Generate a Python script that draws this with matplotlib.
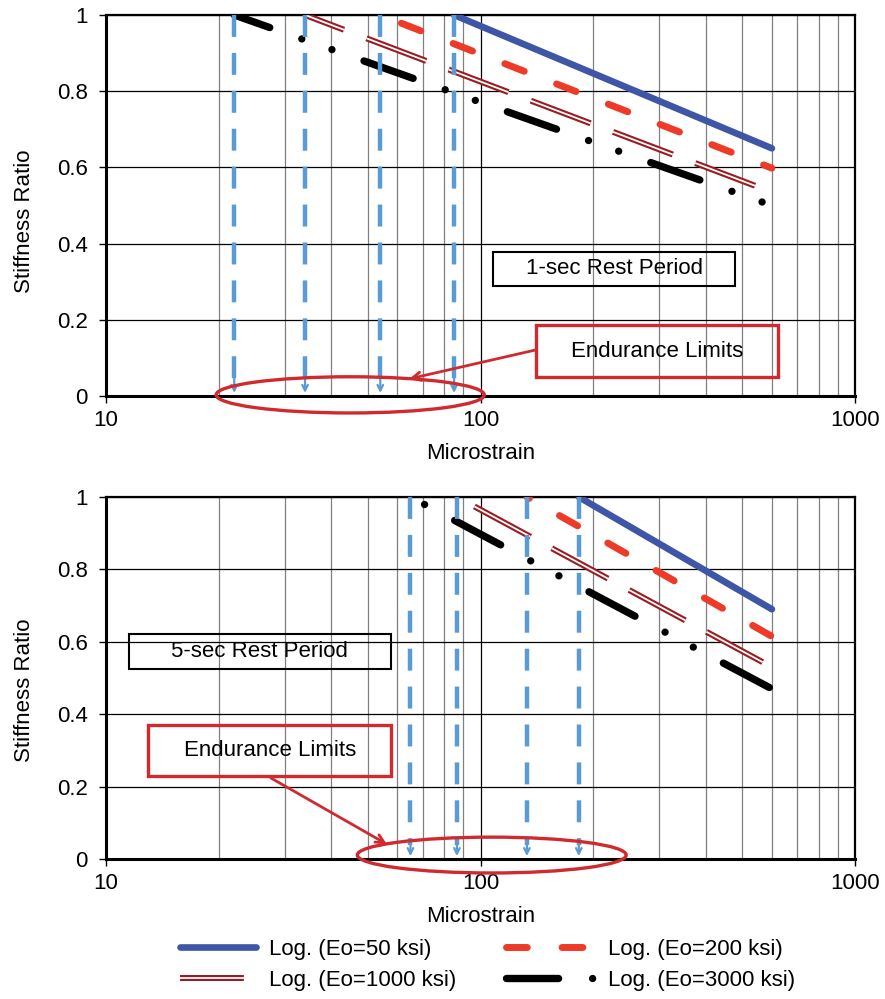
import matplotlib
matplotlib.use("Agg")
import matplotlib.pyplot as plt
from matplotlib.patches import Ellipse, Rectangle
from matplotlib.lines import Line2D
from matplotlib.legend_handler import HandlerTuple
from matplotlib.ticker import LogLocator, NullFormatter

plt.rcParams['font.family'] = ['Liberation Sans', 'DejaVu Sans']
plt.rcParams['lines.scale_dashes'] = False

# trendline labels (Eo = 50, 200, 1000, 3000 ksi)
labels = ['Log. (Eo=50 ksi)', 'Log. (Eo=200 ksi)', 'Log. (Eo=1000 ksi)', 'Log. (Eo=3000 ksi)']
x_end = 600
ratio_start = 1.0

# 1-sec rest period: strain where ratio = 1 and ratio at 600 microstrain
top_x_start = [85, 54, 34, 22]
top_y_end = [0.65, 0.598, 0.535, 0.50]
top_limits = [22, 34, 54, 85]

# 5-sec rest period
bot_x_start = [183, 133, 86.5, 65]
bot_y_end = [0.69, 0.615, 0.53, 0.47]
bot_limits = [65, 86.5, 133, 183]

FS = 16
RED = '#D02A2F'
ARROW_BLUE = '#5B9BD5'

BLUE_DASH = (15.8, 11.5)
RED_DASH = (15, 25)
DBL_DASH = (46, 17.3)
BLACK_DASH = (37.5, 24.5, 0.01, 23, 0.01, 24.5)

# dash phase of each series in each panel (pt)
top_offsets = [0, 23.7, 16, 10.4]
bot_offsets = [0, 13, 49, 73.5]


def series_styles(offsets):
    return [
        [dict(color='#3F56A7', lw=4.8, solid_capstyle='round')],
        [dict(color='#EE3A28', lw=5.0, ls=(offsets[1], RED_DASH), dash_capstyle='round')],
        [dict(color='#9B1B20', lw=4.3, ls=(offsets[2], DBL_DASH), dash_capstyle='butt'),
         dict(color='white', lw=1.3, ls=(offsets[2], DBL_DASH), dash_capstyle='butt')],
        [dict(color='black', lw=5.3, ls=(offsets[3], BLACK_DASH), dash_capstyle='round')],
    ]


def setup_axes(ax, ylabel_y):
    ax.set_xscale('log')
    ax.set_xlim(10, 1000)
    ax.set_ylim(0, 1)
    ax.set_xticks([10, 100, 1000])
    ax.set_xticklabels(['10', '100', '1000'])
    ax.xaxis.set_minor_locator(LogLocator(base=10, subs=range(2, 10)))
    ax.xaxis.set_minor_formatter(NullFormatter())
    ax.set_yticks([0, 0.2, 0.4, 0.6, 0.8, 1.0])
    ax.set_yticklabels(['0', '0.2', '0.4', '0.6', '0.8', '1'])
    ax.tick_params(which='major', direction='out', length=5, width=1,
                   labelsize=FS, pad=8)
    ax.tick_params(axis='x', which='major', pad=5)
    ax.tick_params(which='minor', length=0)
    ax.grid(True, which='major', color='black', lw=0.9)
    ax.grid(True, which='minor', axis='x', color='#808080', lw=0.9)
    ax.set_axisbelow(True)
    for side in ['left', 'bottom']:
        ax.spines[side].set_linewidth(2.2)
    for side in ['top', 'right']:
        ax.spines[side].set_linewidth(1.6)
    ax.set_xlabel('Microstrain', fontsize=FS, labelpad=9)
    ax.set_ylabel('Stiffness Ratio', fontsize=FS)
    ax.yaxis.set_label_coords(-0.095, ylabel_y)


def draw_lines(ax, x_start, y_end, limits, offsets):
    for xs, ye, st in zip(x_start, y_end, series_styles(offsets)):
        for s in st:
            ax.plot([xs, x_end], [ratio_start, ye], zorder=3, **s)
    for x in limits:
        ax.plot([x, x], [1.0, 0.04], color=ARROW_BLUE, lw=3.2,
                ls=(0, BLUE_DASH), zorder=4)
        ax.annotate('', xy=(x, 0.008), xytext=(x, 0.055),
                    arrowprops=dict(arrowstyle='->,head_length=0.4,head_width=0.2',
                                    color=ARROW_BLUE, lw=1.6,
                                    shrinkA=0, shrinkB=0), zorder=4)


def text_box(ax, x0, y0, x1, y1, text, color, lw):
    ax.add_patch(Rectangle((x0, y0), x1 - x0, y1 - y0, transform=ax.transAxes,
                           fill=False, ec=color, lw=lw, clip_on=False, zorder=5))
    ax.text((x0 + x1) / 2, (y0 + y1) / 2, text, transform=ax.transAxes,
            ha='center', va='center', fontsize=FS, zorder=6)


def endurance_note(ax, box, arrow_start, arrow_end, ell_center, ell_w, ell_h):
    text_box(ax, *box, 'Endurance Limits', RED, 2.4)
    ax.annotate('', xy=arrow_end, xytext=arrow_start,
                xycoords='axes fraction', textcoords='axes fraction',
                arrowprops=dict(arrowstyle='->,head_length=0.6,head_width=0.3',
                                color=RED, lw=2.0, shrinkA=0, shrinkB=0),
                zorder=6, annotation_clip=False)
    ax.add_patch(Ellipse(ell_center, ell_w, ell_h, transform=ax.transAxes,
                         fill=False, ec=RED, lw=2.4, clip_on=False, zorder=6))


fig = plt.figure(figsize=(8.85, 9.99), dpi=100)
ax1 = fig.add_axes([0.1198, 0.6036, 0.8463, 0.3814])
ax2 = fig.add_axes([0.1198, 0.1401, 0.8463, 0.3624])

setup_axes(ax1, 0.459)
setup_axes(ax2, 0.467)

draw_lines(ax1, top_x_start, top_y_end, top_limits, top_offsets)
draw_lines(ax2, bot_x_start, bot_y_end, bot_limits, bot_offsets)

text_box(ax1, 0.517, 0.289, 0.840, 0.378, '1-sec Rest Period', 'black', 1.5)
endurance_note(ax1, (0.574, 0.050, 0.897, 0.186), (0.574, 0.121), (0.405, 0.045),
               (0.326, 0.003), 0.358, 0.095)

text_box(ax2, 0.031, 0.525, 0.380, 0.622, '5-sec Rest Period', 'black', 1.5)
endurance_note(ax2, (0.056, 0.229, 0.381, 0.370), (0.220, 0.224), (0.375, 0.041),
               (0.515, 0.011), 0.359, 0.099)

# legend, one column at a time
leg_styles = series_styles([0, 0, 0, 0])
handles = []
for st in leg_styles:
    parts = tuple(Line2D([], [], **s) for s in st)
    handles.append(parts if len(parts) > 1 else parts[0])

legend_kw = dict(handler_map={tuple: HandlerTuple(ndivide=1, pad=0)}, loc='center left',
                 frameon=False, fontsize=FS, borderpad=0, borderaxespad=0,
                 labelspacing=0.45)
fig.legend([handles[0], handles[2]], [labels[0], labels[2]],
           bbox_to_anchor=(180 / 885, 1 - 965 / 999),
           handlelength=3.4, handletextpad=0.62, **legend_kw)
fig.legend([handles[1], handles[3]], [labels[1], labels[3]],
           bbox_to_anchor=(506 / 885, 1 - 965 / 999),
           handlelength=3.95, handletextpad=0.65, **legend_kw)

fig.savefig('out.png', dpi=100)
